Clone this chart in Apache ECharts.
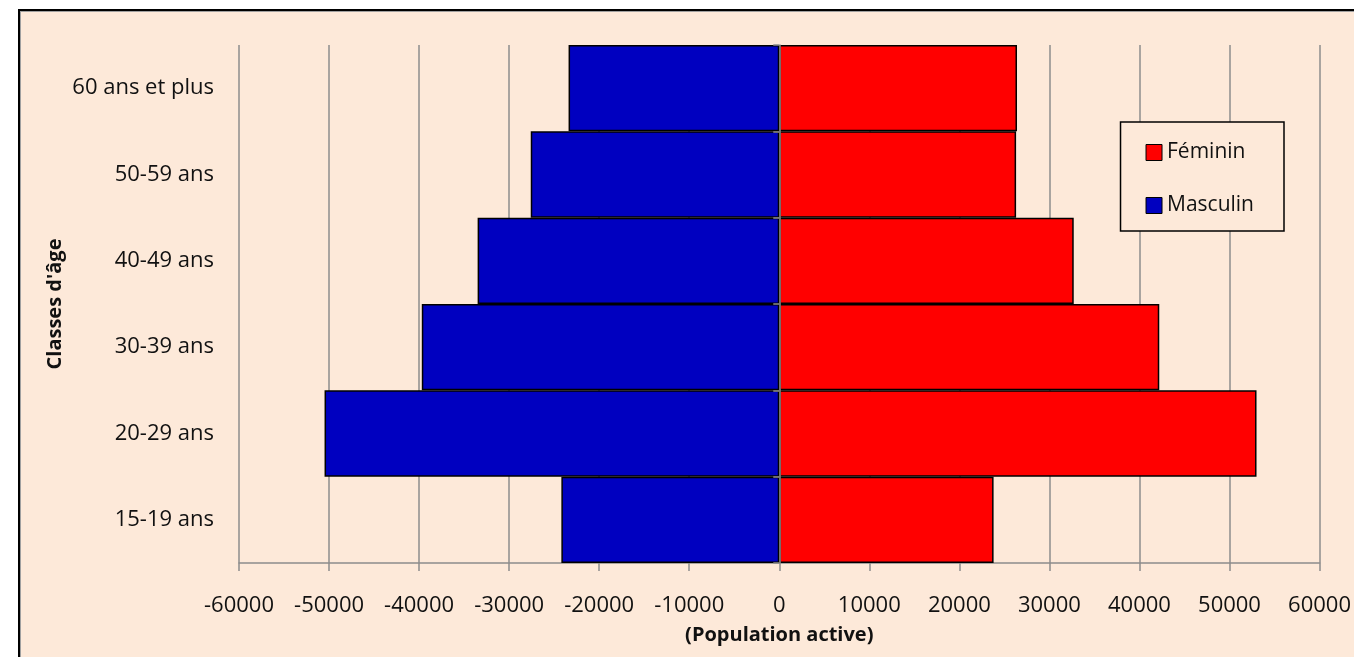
<!DOCTYPE html>
<html>
<head>
<meta charset="utf-8">
<title>Population active par classes d'âge</title>
<script src="https://cdn.jsdelivr.net/npm/echarts@6/dist/echarts.min.js"></script>
<style>
    html, body {
        margin: 0;
        padding: 0;
        width: 1354px;
        height: 657px;
        overflow: hidden;
        background: #fff;
    }
    #frame {
        position: absolute;
        left: 18px;
        top: 9px;
        width: 1360px;
        height: 670px;
        border-top: 2px solid #000;
        border-left: 2px solid #000;
        background: #fde9d9;
    }
    #frame-inner {
        position: absolute;
        left: 0;
        top: 0;
        right: 0;
        bottom: 0;
        border-top: 1px solid #a0a0a0;
        border-left: 1px solid #a0a0a0;
    }
    #chart {
        position: absolute;
        left: 0;
        top: 0;
        width: 1354px;
        height: 657px;
    }
</style>
</head>
<body>
<div id="frame"><div id="frame-inner"></div></div>
<div id="chart"></div>
<script>
// classes d'âge, du bas vers le haut
const categories = ['15-19 ans', '20-29 ans', '30-39 ans', '40-49 ans', '50-59 ans', '60 ans et plus'];
const masculin = [-24200, -50500, -39700, -33500, -27600, -23400];
const feminin = [23800, 53000, 42200, 32700, 26300, 26400];
const xTicks = [-60000, 60000, 10000]; // min, max, interval

const FONT = '"Open Sans", "Liberation Sans", sans-serif';
const GRID_GRAY = '#8c8c8c';
const TEXT = '#111';

const chart = echarts.init(document.getElementById('chart'), null, { renderer: 'canvas' });

chart.setOption({
    backgroundColor: 'transparent',
    animation: false,
    textStyle: { fontFamily: FONT },
    grid: {
        left: 239,
        right: 32,
        top: 45,
        bottom: 94
    },
    legend: {
        orient: 'vertical',
        right: 70,
        top: 122,
        data: ['Féminin', 'Masculin'],
        icon: 'rect',
        itemWidth: 16,
        itemHeight: 16,
        itemGap: 32,
        padding: [20, 30, 15, 25],
        backgroundColor: '#fde9d9',
        borderColor: '#000',
        borderWidth: 1.5,
        borderRadius: 0,
        textStyle: {
            fontFamily: FONT,
            fontSize: 21,
            color: TEXT
        },
        itemStyle: { borderColor: '#000', borderWidth: 1 }
    },
    xAxis: {
        type: 'value',
        min: xTicks[0],
        max: xTicks[1],
        interval: xTicks[2],
        name: '(Population active)',
        nameLocation: 'middle',
        nameGap: 62,
        nameTextStyle: {
            fontFamily: FONT,
            fontSize: 20,
            fontWeight: 'bold',
            color: TEXT
        },
        axisLine: { show: true, onZero: false, lineStyle: { color: GRID_GRAY, width: 1.5 } },
        axisTick: { show: true, length: 8, lineStyle: { color: GRID_GRAY, width: 1.5 } },
        axisLabel: {
            margin: 32,
            fontFamily: FONT,
            fontSize: 22,
            color: TEXT,
            formatter: v => String(v)
        },
        splitLine: { show: true, lineStyle: { color: GRID_GRAY, width: 1.5 } }
    },
    yAxis: [
        {
            type: 'category',
            data: categories,
            name: "Classes d'âge",
            nameLocation: 'middle',
            nameGap: 174,
            nameMoveOverlap: false,
            nameRotate: 90,
            nameTextStyle: {
                fontFamily: FONT,
                fontSize: 20,
                fontWeight: 'bold',
                color: TEXT
            },
            axisLine: { show: false, onZero: false },
            axisTick: { show: false },
            axisLabel: {
                margin: 25,
                fontFamily: FONT,
                fontSize: 22,
                color: TEXT
            }
        },
        {
            // axe vertical sur le zéro, sans libellés
            type: 'category',
            data: categories,
            position: 'left',
            z: 5,
            axisLine: { show: true, onZero: true, lineStyle: { color: GRID_GRAY, width: 1.5 } },
            axisTick: { show: true, length: 6, lineStyle: { color: GRID_GRAY, width: 1.5 } },
            axisLabel: { show: false }
        }
    ],
    series: [
        {
            name: 'Féminin',
            type: 'bar',
            data: feminin,
            barWidth: '100%',
            barGap: '-100%',
            itemStyle: { color: '#ff0000', borderColor: '#000', borderWidth: 1.5 },
            z: 3
        },
        {
            name: 'Masculin',
            type: 'bar',
            data: masculin,
            barWidth: '100%',
            barGap: '-100%',
            itemStyle: { color: '#0000c0', borderColor: '#000', borderWidth: 1.5 },
            z: 3
        }
    ]
});
</script>
</body>
</html>
